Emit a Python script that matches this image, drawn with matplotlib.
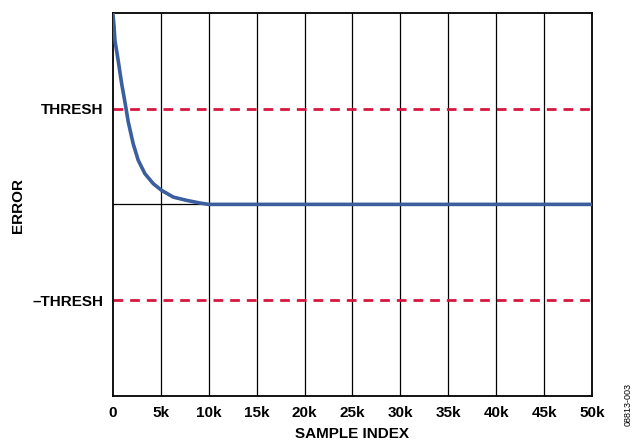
"""
Error vs sample index, converging to zero inside the threshold band.
"""
from matplotlib import pyplot as plt

# data (error in units of THRESH)
samples = [0, 100, 210, 550, 910, 1250, 1600, 2120, 2640, 3340, 4210,
           5080, 6300, 7690, 9080, 10000, 20000, 30000, 40000, 50000]
error = [1.98, 1.88, 1.71, 1.50, 1.26, 1.07, 0.86, 0.63, 0.46, 0.32, 0.216,
         0.146, 0.076, 0.042, 0.014, 0.0, 0.0, 0.0, 0.0, 0.0]
thresh = 1.0
x_ticks = [0, 5000, 10000, 15000, 20000, 25000, 30000, 35000, 40000, 45000, 50000]
x_labels = ["0", "5k", "10k", "15k", "20k", "25k", "30k", "35k", "40k", "45k", "50k"]
y_ticks = [thresh, -thresh]
y_labels = ["THRESH", "\u2013THRESH"]


def main():
    plt.rcParams["font.family"] = ["Liberation Sans", "DejaVu Sans"]
    plt.rcParams["font.weight"] = "bold"

    fig = plt.figure(figsize=(6.38, 4.46), dpi=100)
    ax = fig.add_axes([0.177, 0.112, 0.751, 0.8595])

    for x in x_ticks[1:-1]:
        ax.axvline(x, color="black", lw=0.9, zorder=1)
    ax.axhline(0, color="black", lw=0.9, zorder=1)
    for y in y_ticks:
        ax.axhline(y, color="#d5173f", lw=2.0, ls=(0, (3.5, 2.5)), zorder=2)

    ax.plot(samples, error, color="#3a5e9e", lw=2.6, zorder=3,
            solid_joinstyle="round")

    ax.set_xlim(0, 50000)
    ax.set_ylim(-2, 2)
    ax.set_xticks(x_ticks)
    ax.set_xticklabels(x_labels, fontsize=11, fontweight="bold")
    ax.set_yticks(y_ticks)
    ax.set_yticklabels(y_labels, fontsize=11, fontweight="bold")
    ax.tick_params(length=0, pad=7)
    for s in ax.spines.values():
        s.set_linewidth(1.3)

    ax.set_xlabel("SAMPLE INDEX", fontsize=11, fontweight="bold", labelpad=5)
    fig.text(0.028, 0.54, "ERROR", rotation=90, fontsize=11,
             fontweight="bold", ha="center", va="center")
    fig.text(0.985, 0.045, "08813-003", rotation=90, fontsize=6.5,
             fontweight="normal", ha="center", va="bottom")

    fig.savefig("out.png", dpi=100)


if __name__ == "__main__":
    main()
